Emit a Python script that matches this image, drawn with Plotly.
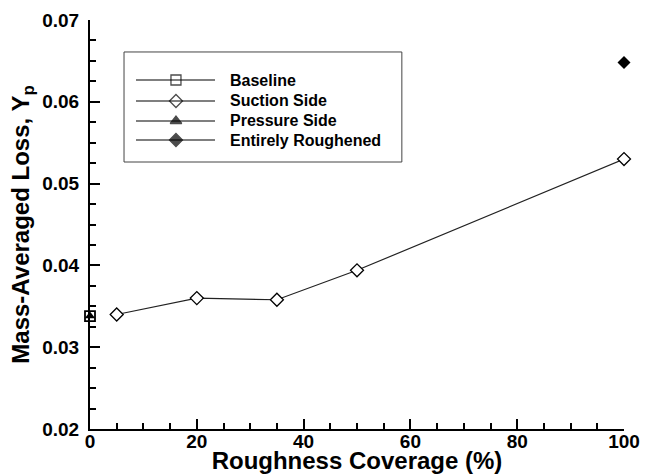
import plotly.graph_objects as go

# ---- data ----
baseline_x = [0]
baseline_y = [0.0338]
suction_x = [5, 20, 35, 50, 100]
suction_y = [0.0340, 0.0360, 0.0358, 0.0394, 0.0530]
pressure_x = [0]
pressure_y = [0.0338]
entire_x = [100]
entire_y = [0.0648]

legend_names = ["Baseline", "Suction Side", "Pressure Side", "Entirely Roughened"]
legend_sizes = [10, 10, 10, 10]

FONT = "Liberation Sans, Arial, Helvetica, sans-serif"

fig = go.Figure()

fig.add_trace(go.Scatter(x=baseline_x, y=baseline_y, mode="markers",
                         marker=dict(symbol="square", size=10, color="white",
                                     line=dict(width=1.8, color="black")),
                         cliponaxis=False, showlegend=False))
fig.add_trace(go.Scatter(x=suction_x, y=suction_y, mode="lines+markers",
                         line=dict(color="#222222", width=1.2),
                         marker=dict(symbol="diamond", size=10, color="white",
                                     line=dict(width=1.3, color="black")),
                         cliponaxis=False, showlegend=False))
fig.add_trace(go.Scatter(x=pressure_x, y=pressure_y, mode="markers",
                         marker=dict(symbol="triangle-up", size=9, color="black"),
                         cliponaxis=False, showlegend=False))
fig.add_trace(go.Scatter(x=entire_x, y=entire_y, mode="markers",
                         marker=dict(symbol="diamond", size=10, color="black"),
                         cliponaxis=False, showlegend=False))

# ---- custom legend (paper-like overlay axes) ----
box_x0, box_x1, box_y0, box_y1 = 0.0637, 0.584, 0.6528, 0.9218
row_y = [0.8533, 0.802, 0.7531, 0.7066]
line_x0, line_x1, mark_x, text_x = 0.0861, 0.2341, 0.161, 0.2584

shapes = [dict(type="rect", xref="paper", yref="paper", x0=box_x0, x1=box_x1,
               y0=box_y0, y1=box_y1, line=dict(color="#444444", width=1))]
annotations = []
for name, ry in zip(legend_names, row_y):
    shapes.append(dict(type="line", xref="paper", yref="paper", x0=line_x0, x1=line_x1,
                       y0=ry, y1=ry, line=dict(color="black", width=1.2)))
    annotations.append(dict(xref="paper", yref="paper", x=text_x, y=ry, text=name,
                            showarrow=False, xanchor="left", yanchor="middle",
                            font=dict(family=FONT, size=16, color="black", weight="bold")))

fig.add_trace(go.Scatter(x=[mark_x] * 4, y=row_y, mode="markers", xaxis="x2", yaxis="y2",
                         marker=dict(symbol=["square", "diamond", "triangle-up", "diamond"],
                                     size=legend_sizes,
                                     color=["white", "white", "black", "black"],
                                     line=dict(width=1.3, color="black")),
                         cliponaxis=False, showlegend=False, hoverinfo="skip"))

fig.update_layout(
    width=649, height=474,
    margin=dict(l=90, r=25, t=20, b=45),
    paper_bgcolor="white", plot_bgcolor="white",
    showlegend=False,
    font=dict(family=FONT, color="black"),
    shapes=shapes,
    annotations=annotations,
    xaxis=dict(range=[0, 100], dtick=20, showgrid=False, zeroline=False, automargin=False,
               showline=True, linecolor="black", linewidth=2,
               ticks="inside", ticklen=10, tickwidth=2, tickcolor="black",
               minor=dict(dtick=5, ticks="inside", ticklen=6, tickwidth=1.5, tickcolor="black"),
               tickfont=dict(family=FONT, size=19, color="black", weight="bold"),
               ticklabelstandoff=-6,
               title=dict(text="Roughness Coverage (%)", standoff=8,
                          font=dict(family=FONT, size=24, color="black", weight="bold"))),
    yaxis=dict(range=[0.02, 0.07], dtick=0.01, tickformat=".2f", showgrid=False, zeroline=False,
               automargin=False,
               showline=True, linecolor="black", linewidth=2,
               ticks="inside", ticklen=10, tickwidth=2, tickcolor="black",
               minor=dict(dtick=0.0025, ticks="inside", ticklen=6, tickwidth=1.5, tickcolor="black"),
               tickfont=dict(family=FONT, size=19, color="black", weight="bold"),
               ticklabelstandoff=5,
               title=dict(text="Mass-Averaged Loss, Y<sub>p</sub>", standoff=6,
                          font=dict(family=FONT, size=24, color="black", weight="bold"))),
    xaxis2=dict(domain=[0, 1], range=[0, 1], visible=False, anchor="y2", overlaying="x"),
    yaxis2=dict(domain=[0, 1], range=[0, 1], visible=False, anchor="x2", overlaying="y"),
)

fig.write_html("out.html")
